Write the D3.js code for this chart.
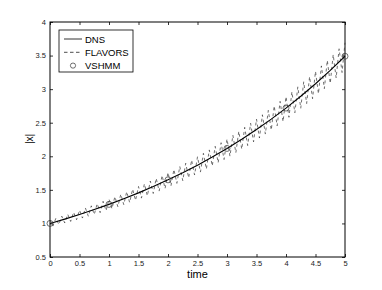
<!DOCTYPE html>
<html>
<head>
<meta charset="utf-8">
<script src="https://cdn.jsdelivr.net/npm/d3@7"></script>
<style>
  body { margin: 0; background: #fff; }
  text { font-family: "Liberation Sans", Arial, sans-serif; }
</style>
</head>
<body>
<div id="chart"></div>
<script>
// DNS reference curve, sampled every 0.25
const dnsTime = [0, 0.25, 0.5, 0.75, 1, 1.25, 1.5, 1.75, 2, 2.25, 2.5, 2.75, 3, 3.25, 3.5, 3.75, 4, 4.25, 4.5, 4.75, 5];
const dnsValues = [1.000, 1.064, 1.133, 1.206, 1.284, 1.367, 1.455, 1.549, 1.649, 1.755, 1.868, 1.989, 2.117, 2.254, 2.399, 2.554, 2.718, 2.894, 3.080, 3.279, 3.490];

// FLAVORS, oscillating around DNS, sampled every 0.05
const flavorsStep = 0.05;
const flavorsValues = [
  1.050, 0.961, 1.078, 0.983, 1.107, 1.006, 1.137, 1.030, 1.167, 1.055,
  1.198, 1.080, 1.230, 1.106, 1.262, 1.133, 1.295, 1.161, 1.329, 1.189,
  1.364, 1.218, 1.400, 1.248, 1.436, 1.279, 1.473, 1.311, 1.511, 1.343,
  1.550, 1.377, 1.590, 1.411, 1.631, 1.446, 1.672, 1.482, 1.715, 1.519,
  1.759, 1.558, 1.804, 1.597, 1.849, 1.637, 1.896, 1.679, 1.944, 1.721,
  1.993, 1.765, 2.044, 1.810, 2.095, 1.856, 2.148, 1.903, 2.202, 1.952,
  2.257, 2.002, 2.314, 2.053, 2.372, 2.106, 2.431, 2.160, 2.492, 2.215,
  2.554, 2.272, 2.618, 2.331, 2.683, 2.391, 2.750, 2.453, 2.818, 2.516,
  2.888, 2.581, 2.960, 2.647, 3.034, 2.716, 3.109, 2.786, 3.186, 2.858,
  3.265, 2.932, 3.346, 3.008, 3.429, 3.086, 3.514, 3.166, 3.601, 3.248,
  3.690
];

// VSHMM markers
const vshmmTime = [0, 1, 2, 3, 4, 5];
const vshmmValues = [1.00, 1.284, 1.649, 2.117, 2.718, 3.490];

const xTicks = [0, 0.5, 1, 1.5, 2, 2.5, 3, 3.5, 4, 4.5, 5];
const yTicks = [0.5, 1, 1.5, 2, 2.5, 3, 3.5, 4];
const legendLabels = ["DNS", "FLAVORS", "VSHMM"];

const W = 382, H = 290;
const margin = { top: 22, right: 37, bottom: 33, left: 50 };
const width = W - margin.left - margin.right,
      height = H - margin.top - margin.bottom;

const svg = d3.select("#chart").append("svg")
    .attr("width", W)
    .attr("height", H);

const g = svg.append("g")
    .attr("transform", "translate(" + margin.left + "," + margin.top + ")");

const x = d3.scaleLinear().domain([0, 5]).range([0, width]);
const y = d3.scaleLinear().domain([0.5, 4]).range([height, 0]);

// axes with inward ticks, matlab-style box
function styleAxis(sel) {
  sel.select(".domain").remove();
  sel.selectAll("line").attr("stroke", "#000").attr("stroke-width", 0.8);
  sel.selectAll("text").attr("font-size", 7.5).attr("fill", "#222");
}

g.append("g")
    .attr("transform", "translate(0," + height + ")")
    .call(d3.axisBottom(x).tickValues(xTicks).tickSize(-3).tickPadding(4).tickFormat(d3.format("")))
    .call(styleAxis);
g.append("g")
    .call(d3.axisTop(x).tickValues(xTicks).tickSize(-3).tickFormat(""))
    .call(styleAxis);
g.append("g")
    .call(d3.axisLeft(y).tickValues(yTicks).tickSize(-3).tickPadding(4).tickFormat(d3.format("")))
    .call(styleAxis);
g.append("g")
    .attr("transform", "translate(" + width + ",0)")
    .call(d3.axisRight(y).tickValues(yTicks).tickSize(-3).tickFormat(""))
    .call(styleAxis);

g.append("rect")
    .attr("width", width)
    .attr("height", height)
    .attr("fill", "none")
    .attr("stroke", "#000")
    .attr("stroke-width", 1);

// axis labels
svg.append("text")
    .attr("x", margin.left + width / 2)
    .attr("y", 278)
    .attr("text-anchor", "middle")
    .attr("font-size", 11)
    .text("time");

svg.append("text")
    .attr("transform", "translate(33,139) rotate(-90)")
    .attr("text-anchor", "middle")
    .attr("font-size", 10)
    .text("|x|");

// series
const line = d3.line().x(d => x(d[0])).y(d => y(d[1]));

const flavorsData = flavorsValues.map((v, i) => [i * flavorsStep, v]);
g.append("path")
    .datum(flavorsData)
    .attr("fill", "none")
    .attr("stroke", "#333")
    .attr("stroke-width", 0.7)
    .attr("stroke-dasharray", "3,3")
    .attr("d", line);

g.append("path")
    .datum(dnsTime.map((t, i) => [t, dnsValues[i]]))
    .attr("fill", "none")
    .attr("stroke", "#000")
    .attr("stroke-width", 1.1)
    .attr("d", line);

g.selectAll(".vshmm")
    .data(vshmmTime.map((t, i) => [t, vshmmValues[i]]))
    .enter().append("circle")
    .attr("class", "vshmm")
    .attr("cx", d => x(d[0]))
    .attr("cy", d => y(d[1]))
    .attr("r", 3)
    .attr("fill", "none")
    .attr("stroke", "#333")
    .attr("stroke-width", 0.7);

// legend
const lg = svg.append("g").attr("transform", "translate(59,30)");
lg.append("rect")
    .attr("width", 74)
    .attr("height", 42)
    .attr("fill", "#fff")
    .attr("stroke", "#000")
    .attr("stroke-width", 0.8);

const rows = lg.selectAll(".legend")
    .data(legendLabels)
    .enter().append("g")
    .attr("class", "legend")
    .attr("transform", (d, i) => "translate(0," + (9 + i * 13.3) + ")");

rows.append("text")
    .attr("x", 26)
    .attr("y", 3.5)
    .attr("font-size", 9.5)
    .text(d => d);

rows.filter((d, i) => i < 2).append("line")
    .attr("x1", 5)
    .attr("x2", 23)
    .attr("stroke", "#000")
    .attr("stroke-width", (d, i) => i === 0 ? 0.8 : 0.7)
    .attr("stroke-dasharray", (d, i) => i === 0 ? null : "3.5,2.5");

rows.filter((d, i) => i === 2).append("circle")
    .attr("cx", 14)
    .attr("r", 2.6)
    .attr("fill", "none")
    .attr("stroke", "#333")
    .attr("stroke-width", 0.7);
</script>
</body>
</html>
